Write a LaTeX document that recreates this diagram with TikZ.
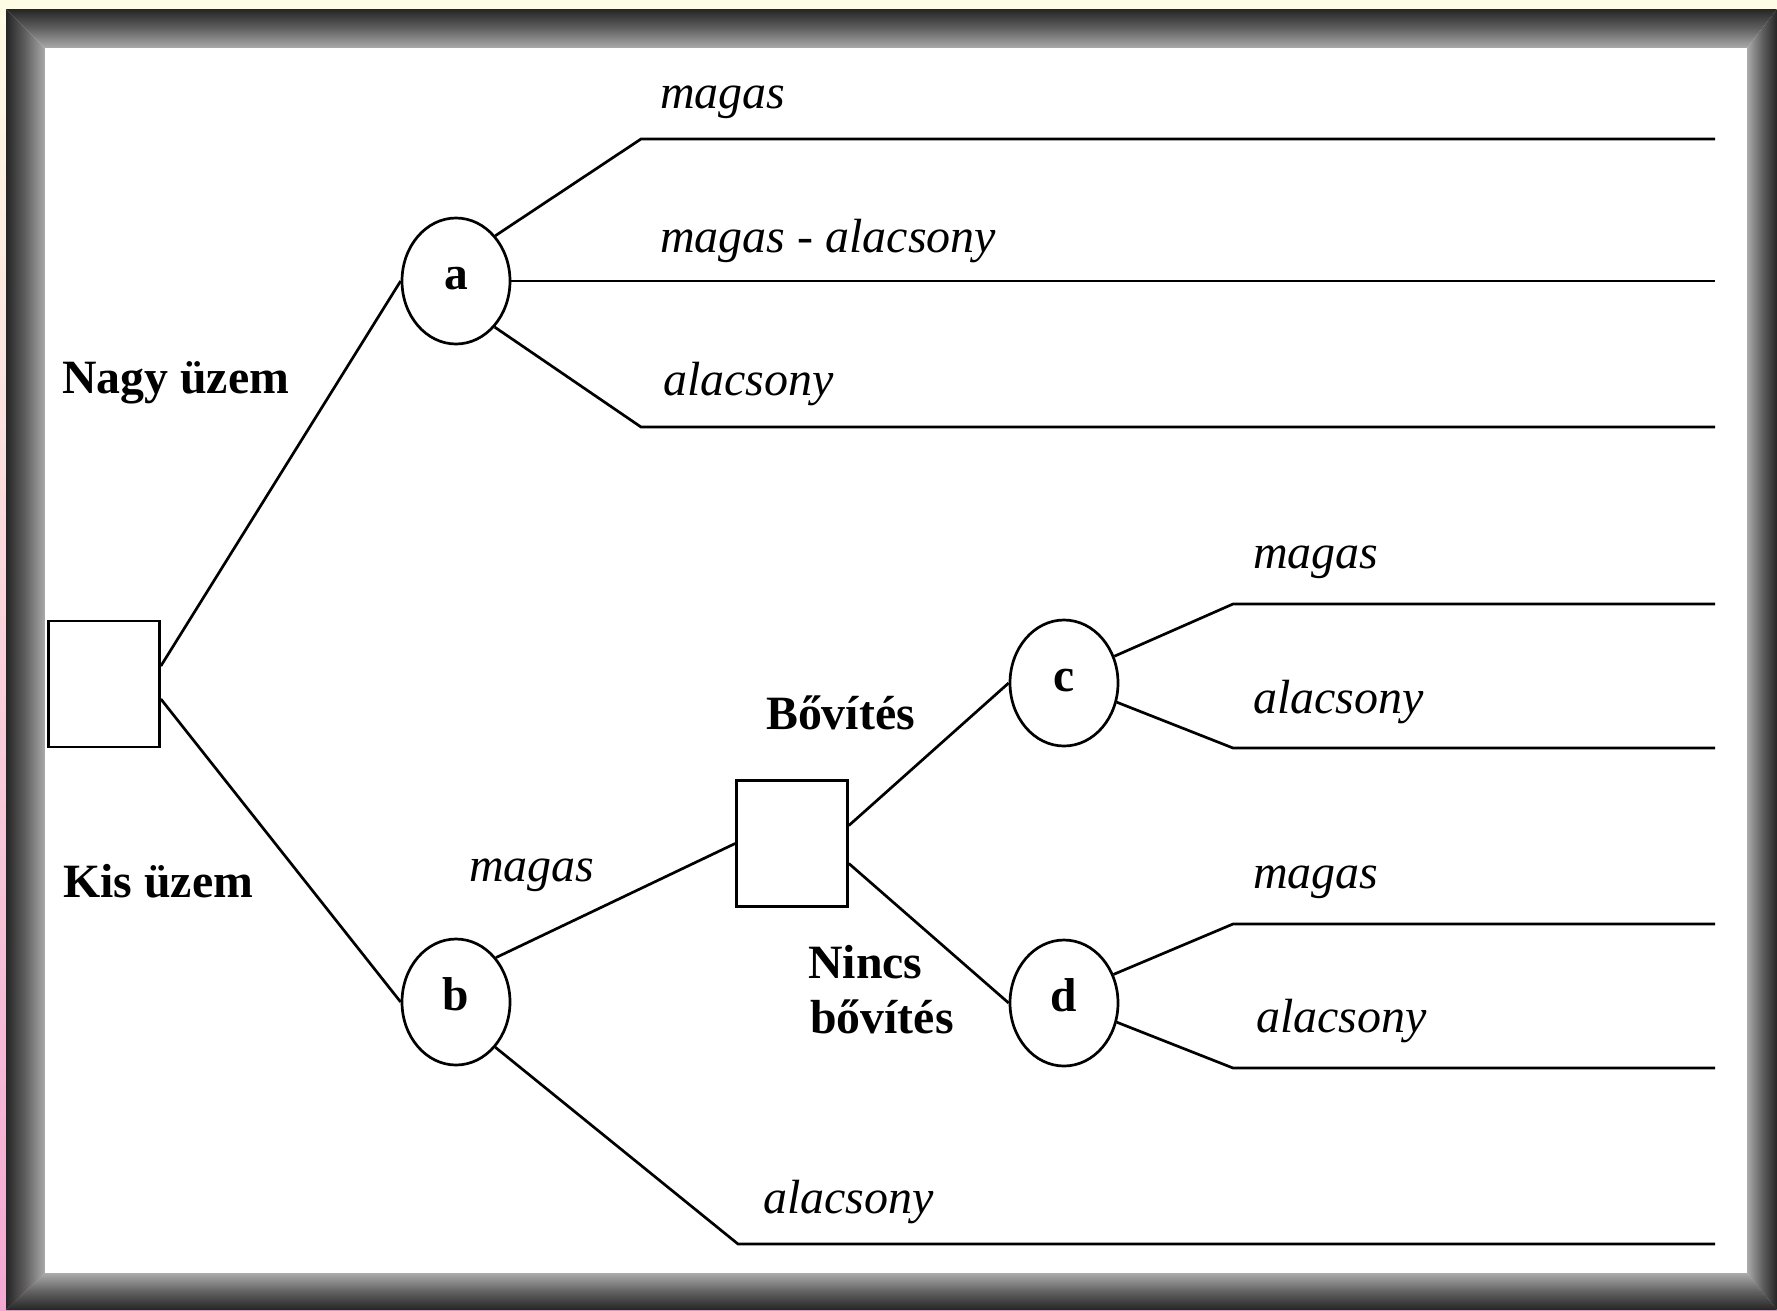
\documentclass[tikz,border=0pt]{standalone}
\usepackage{fontspec}
\setmainfont{Liberation Serif}
\usetikzlibrary{shapes.geometric,calc}
\definecolor{cream}{RGB}{255,252,229}
\definecolor{blush}{RGB}{243,168,210}
\pgfdeclarehorizontalshading{bevel}{100bp}{color(0bp)=(black); color(15bp)=(black!95); color(50bp)=(black!62); color(82bp)=(black!25); color(100bp)=(white)}

\begin{document}
\begin{tikzpicture}[x=1pt,y=-1pt,
  chance/.style={draw, ellipse, minimum width=108pt, minimum height=126pt,
    inner sep=0pt, line width=2.7pt, text height=16pt, text depth=0pt,
    font=\fontsize{47.5}{50}\selectfont\bfseries},
  decision/.style={draw, rectangle, minimum width=111pt, minimum height=126pt,
    inner sep=0pt, line width=2.7pt},
  branch/.style={line width=2.7pt, line join=miter},
  outcome/.style={anchor=base west, inner sep=0pt,
    font=\fontsize{48}{50}\selectfont\itshape},
  choice/.style={anchor=base west, inner sep=0pt,
    font=\fontsize{47.8}{50}\selectfont\bfseries}]

% page and bevelled frame
\useasboundingbox (0,0) rectangle (1777,1310);
\fill[top color=cream, bottom color=blush] (0,0) rectangle (1777,1310);
\shade[shading=bevel, shading angle=0]   (6,9) -- (45,48) -- (45,1273) -- (6,1310) -- cycle;
\shade[shading=bevel, shading angle=-90] (6,9) -- (1777,9) -- (1747,48) -- (45,48) -- cycle;
\shade[shading=bevel, shading angle=180] (1777,9) -- (1777,1310) -- (1747,1273) -- (1747,48) -- cycle;
\shade[shading=bevel, shading angle=90]  (6,1310) -- (1777,1310) -- (1747,1273) -- (45,1273) -- cycle;
\fill[white] (45,48) rectangle (1747,1273);

% decision and chance nodes
\node[decision] (root) at (104,684) {};
\node[chance] (a) at (456,281) {a};
\node[chance] (b) at (456,1002) {b};
\node[decision] (ext) at (792,843.5) {};
\node[chance] (c) at (1064,683) {c};
\node[chance] (d) at (1064,1003) {d};

% bends and free ends of the outcome branches
\coordinate (k1) at (641,139);  \coordinate (e1) at (1715,139);
\coordinate (e2) at (1715,281);
\coordinate (k3) at (641,427);  \coordinate (e3) at (1715,427);
\coordinate (k4) at (738,1244); \coordinate (e4) at (1715,1244);
\coordinate (kc1) at (1233,604);  \coordinate (ec1) at (1715,604);
\coordinate (kc2) at (1233,748);  \coordinate (ec2) at (1715,748);
\coordinate (kd1) at (1233,924);  \coordinate (ed1) at (1715,924);
\coordinate (kd2) at (1233,1068); \coordinate (ed2) at (1715,1068);

% branches
\draw[branch] ([yshift=18pt]root.east) -- (a.west);
\draw[branch] ([yshift=-15pt]root.east) -- (b.west);
\draw[branch] (a.49) -- (k1) -- (e1);
\draw[branch] (a.east) -- (e2);
\draw[branch] (a.-50) -- (k3) -- (e3);
\draw[branch] (b.48) -- (ext.west);
\draw[branch] (b.-49) -- (k4) -- (e4);
\draw[branch] ([yshift=18pt]ext.east) -- (c.west);
\draw[branch] ([yshift=-20pt]ext.east) -- (d.west);
\draw[branch] (c.28) -- (kc1) -- (ec1);
\draw[branch] (c.-20) -- (kc2) -- (ec2);
\draw[branch] (d.30) -- (kd1) -- (ed1);
\draw[branch] (d.-20) -- (kd2) -- (ed2);

% labels
\node[choice] (nagy) at (62,393) {Nagy üzem};
\node[choice] (kis) at (63,897) {Kis üzem};
\node[choice] (bov) at (766,729) {Bővítés};
\node[choice] (nincs) at (808,978) {Nincs};
\node[choice] (nincsb) at (810,1033) {bővítés};
\node[outcome] (l1) at (660,108) {magas};
\node[outcome] (l2) at (660,252) {magas - alacsony};
\node[outcome] (l3) at (663,395) {alacsony};
\node[outcome] (l4) at (469,881) {magas};
\node[outcome] (l5) at (763,1213) {alacsony};
\node[outcome] (l6) at (1253,568) {magas};
\node[outcome] (l7) at (1253,713) {alacsony};
\node[outcome] (l8) at (1253,888) {magas};
\node[outcome] (l9) at (1256,1032) {alacsony};
\end{tikzpicture}
\end{document}
